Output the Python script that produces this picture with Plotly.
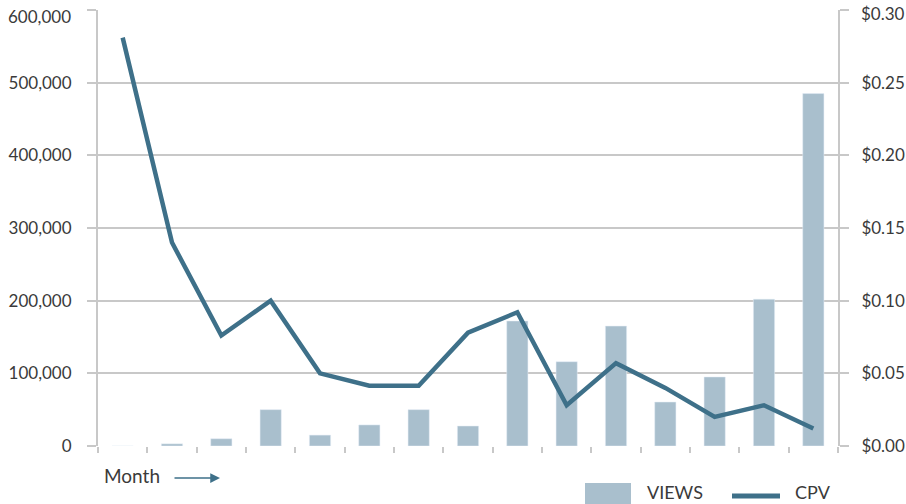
import plotly.graph_objects as go

months = [f"M{i}" for i in range(1, 16)]
views = [0, 3000, 10000, 50000, 15000, 29000, 50000, 27500, 172000, 116000, 165000, 60500, 95000, 202000, 485000]
cpv = [0.281, 0.140, 0.076, 0.100, 0.050, 0.0415, 0.0415, 0.078, 0.092, 0.028, 0.057, 0.040, 0.020, 0.028, 0.012]

left_ticks = [0, 100000, 200000, 300000, 400000, 500000, 600000]
left_labels = ["0", "100,000", "200,000", "300,000", "400,000", "500,000", "600,000"]
right_ticks = [0, 0.05, 0.10, 0.15, 0.20, 0.25, 0.30]
right_labels = ["$0.00", "$0.05", "$0.10", "$0.15", "$0.20", "$0.25", "$0.30"]
series_names = ["VIEWS", "CPV"]
x_title = "Month"

BAR = "#a9bfcd"
LINE = "#3e7089"
GRID = "#c8c8c8"
TXT = "#3a3a3a"
FONT = "Lato, 'DejaVu Sans', sans-serif"

FIG_W, FIG_H = 906, 504
PL, PR, PT, PB = 98, 838, 10, 446  # plot area in page pixels


def px(X):
    return (X - PL) / (PR - PL)


def py(Y):
    return (PB - Y) / (PB - PT)


fig = go.Figure()
fig.add_trace(go.Bar(x=months, y=views, name=series_names[0], marker_color=BAR,
                     width=0.43, yaxis="y", showlegend=False))
fig.add_trace(go.Scatter(x=months, y=cpv, name=series_names[1], mode="lines",
                         line=dict(color=LINE, width=4.5), yaxis="y2", showlegend=False))

fig.update_layout(
    width=FIG_W, height=FIG_H,
    margin=dict(l=PL, r=FIG_W - PR, t=PT, b=FIG_H - PB, autoexpand=False),
    paper_bgcolor="white", plot_bgcolor="white",
    font=dict(family=FONT, size=17, color=TXT),
    showlegend=False,
    xaxis=dict(type="category", showticklabels=False, ticks="outside", tickson="boundaries",
               ticklen=6, tickcolor=GRID, tickwidth=2, showgrid=False,
               showline=False, zeroline=False, range=[-0.5, 14.5]),
    yaxis=dict(range=[0, 600000], tickvals=left_ticks, ticktext=left_labels[:-1] + [""],
               showgrid=True, gridcolor=GRID, gridwidth=2, ticks="outside", ticklen=9,
               tickcolor=GRID, tickwidth=2, showline=True, linecolor=GRID, linewidth=2,
               zeroline=False, ticklabelstandoff=12, tickfont=dict(size=17, color=TXT)),
    yaxis2=dict(range=[0, 0.30], tickvals=right_ticks, ticktext=right_labels[:-1] + [""],
                overlaying="y", side="right", showgrid=False, ticks="outside", ticklen=9,
                tickcolor=GRID, tickwidth=2, showline=True, linecolor=GRID, linewidth=2,
                zeroline=False, ticklabelstandoff=9, tickfont=dict(size=17, color=TXT)),
)

# top tick labels pushed down inside the chart edge (as in the original)
fig.add_annotation(text=left_labels[-1], xref="paper", yref="paper", x=0, y=1,
                   xanchor="right", yanchor="middle", xshift=-25, yshift=-6,
                   showarrow=False, font=dict(size=17, color=TXT))
fig.add_annotation(text=right_labels[-1], xref="paper", yref="paper", x=1, y=1,
                   xanchor="left", yanchor="middle", xshift=21, yshift=-3,
                   showarrow=False, font=dict(size=17, color=TXT))

# Month with arrow
fig.add_annotation(text=x_title, xref="paper", yref="paper", x=px(102), y=py(476),
                   xanchor="left", yanchor="middle", showarrow=False,
                   font=dict(size=19, color=TXT))
fig.add_annotation(text="", xref="paper", yref="paper", x=px(220), y=py(478),
                   ax=-47, ay=0, showarrow=True, arrowhead=2, arrowsize=1.3,
                   arrowwidth=1.5, arrowcolor=LINE)

# legend (drawn manually to match the large swatches)
fig.add_shape(type="rect", xref="paper", yref="paper", x0=px(585), x1=px(631),
              y0=py(483), y1=py(512), fillcolor=BAR, line=dict(width=0), layer="above")
fig.add_annotation(text=series_names[0], xref="paper", yref="paper", x=px(645), y=py(492),
                   xanchor="left", yanchor="middle", showarrow=False,
                   font=dict(size=18, color=TXT))
fig.add_shape(type="line", xref="paper", yref="paper", x0=px(732), x1=px(780),
              y0=py(496), y1=py(496), line=dict(color=LINE, width=5), layer="above")
fig.add_annotation(text=series_names[1], xref="paper", yref="paper", x=px(793), y=py(492),
                   xanchor="left", yanchor="middle", showarrow=False,
                   font=dict(size=18, color=TXT))

fig.write_html("out.html", config={"displayModeBar": False},
               post_script="document.body.style.margin='0';document.body.style.overflow='hidden';")
